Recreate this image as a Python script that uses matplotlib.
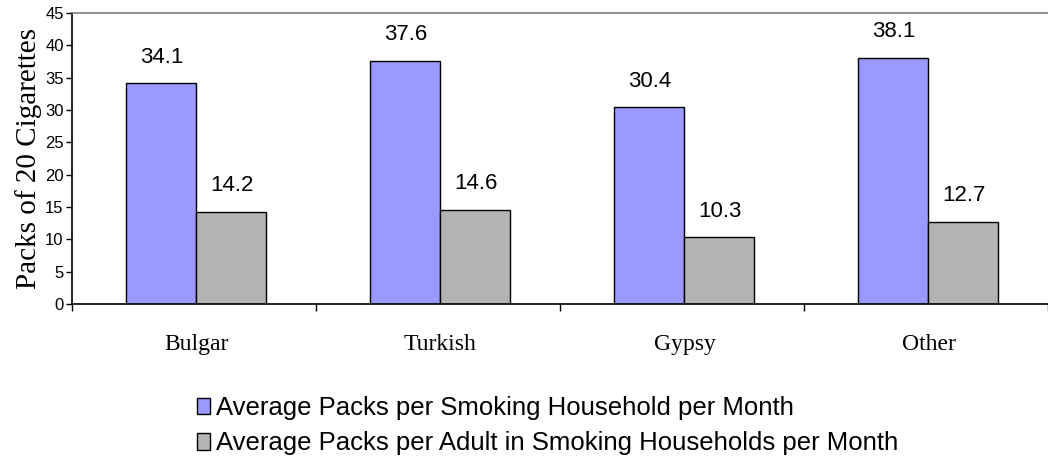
import matplotlib
matplotlib.use('Agg')
import matplotlib.pyplot as plt
import numpy as np

# === DATA ===
groups = ['Bulgar', 'Turkish', 'Gypsy', 'Other']
per_household = [34.1, 37.6, 30.4, 38.1]
per_adult = [14.2, 14.6, 10.3, 12.7]
series_names = ['Average Packs per Smoking Household per Month',
                'Average Packs per Adult in Smoking Households per Month']
y_ticks = list(range(0, 46, 5))

# === PLOT ===
fig = plt.figure(figsize=(10.48, 4.62), dpi=100)
ax = fig.add_axes([72 / 1048, 158 / 462, 976 / 1048, 291 / 462])

x = np.arange(len(groups))
w = 0.287
b1 = ax.bar(x - w / 2 + 0.01, per_household, w, color='#9999FF',
            edgecolor='black', linewidth=1.0, label=series_names[0])
b2 = ax.bar(x + w / 2 + 0.01, per_adult, w, color='#B3B3B3',
            edgecolor='black', linewidth=1.0, label=series_names[1])

for bars, vals in ((b1, per_household), (b2, per_adult)):
    for rect, v in zip(bars, vals):
        ax.annotate('%.1f' % v,
                    (rect.get_x() + rect.get_width() / 2, rect.get_height()),
                    xytext=(0, 19), textcoords='offset points',
                    ha='center', va='center', fontsize=16,
                    family='Liberation Sans')

ax.set_xlim(-0.5, len(groups) - 0.5)
ax.set_ylim(0, 45)
ax.set_yticks(y_ticks)
ax.tick_params(axis='y', labelsize=12, length=4, width=1, pad=2)
for lbl in ax.get_yticklabels():
    lbl.set_family('Liberation Sans')

# category labels below, ticks at boundaries
ax.set_xticks(np.arange(-0.5, len(groups), 1.0))
ax.set_xticklabels([])
ax.tick_params(axis='x', length=5, width=1)
for i, g in enumerate(groups):
    ax.text(i + 0.01, -0.14, g, transform=ax.get_xaxis_transform(),
            ha='center', va='center', fontsize=17,
            family='Liberation Serif')

ax.set_ylabel('Packs of 20 Cigarettes', fontsize=21,
              family='Liberation Serif', labelpad=2)

ax.spines['right'].set_visible(False)
ax.spines['top'].set_color('#808080')
ax.spines['top'].set_linewidth(1.2)
ax.spines['left'].set_linewidth(1.2)
ax.spines['bottom'].set_linewidth(1.2)

fig.legend(handles=[b1, b2], loc='upper left',
           bbox_to_anchor=(184 / 1048, 1 - 383 / 462),
           frameon=False, handlelength=0.5, handleheight=0.6,
           handletextpad=0.25, labelspacing=0.45, borderpad=0,
           prop={'family': 'Liberation Sans', 'size': 18.5})

fig.savefig('out.png', format='png', dpi=100)
plt.close()
